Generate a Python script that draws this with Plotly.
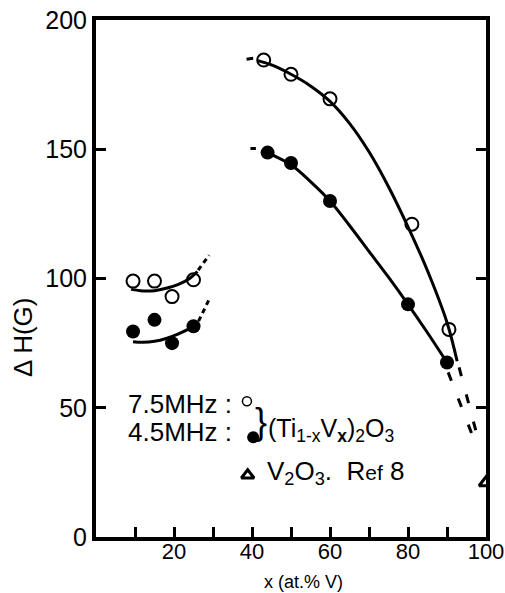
import plotly.graph_objects as go

# ---------------- data ----------------
# measured points, (Ti1-xVx)2O3
x_open_low = [9.5, 15, 19.5, 25]
y_open_low = [99, 99, 93, 99.5]
x_fill_low = [9.5, 15, 19.5, 25]
y_fill_low = [79.5, 84, 75, 81.5]
x_open_high = [43, 50, 60, 81, 90.5]
y_open_high = [184.5, 179, 169.5, 121, 80.3]
x_fill_high = [44, 50, 60, 80, 90]
y_fill_high = [148.7, 144.7, 130, 90, 67.5]
# V2O3, Ref 8
x_v2o3 = [100]
y_v2o3 = [21]

# drawn guide curves (solid)
cx_open_low = [9, 12, 15, 18, 21, 24, 26]
cy_open_low = [95.8, 95.2, 95.3, 96.2, 97.6, 100, 102.7]
cx_fill_low = [9.5, 12, 15, 18, 21, 24, 26]
cy_fill_low = [75.5, 75.3, 75.7, 76.8, 78.5, 80.6, 82.2]
cx_open_high = [41.5, 45, 50, 55, 60, 65, 70, 75, 80, 85, 90, 92.6]
cy_open_high = [184.3, 182.6, 179, 174.5, 168.5, 160, 149, 135.5, 120, 103, 83, 68]
cx_fill_high = [42.6, 45, 50, 55, 60, 65, 70, 75, 80, 85, 90]
cy_fill_high = [149.8, 148, 144, 137.5, 130, 120.5, 110.5, 100.5, 90, 79, 67.5]

# drawn guide curves (dashed extrapolations)
dx_open_low = [26.2, 29]
dy_open_low = [103.2, 109]
dx_fill_low = [26.3, 29.2]
dy_fill_low = [83.5, 92.5]
dx_open_high_a = [38.6, 40.3]
dy_open_high_a = [184.8, 185.2]
dx_fill_high_a = [39.6, 41.0]
dy_fill_high_a = [150.3, 150.3]
dx_open_high_b = [93.1, 97.7]
dy_open_high_b = [65.6, 39.4]
dx_fill_high_b = [90.3, 96.9]
dy_fill_high_b = [63.7, 37.8]

x_ticks = [20, 40, 60, 80, 100]
x_ticktext = ["20", "40", "60", "80", "100"]
x_minor_ticks = [10, 30, 50, 70, 90]
y_ticks = [0, 50, 100, 150, 200]
y_ticktext = ["0", "50", "100", "150", "200"]

FONT = "Liberation Sans, Arial, Helvetica, sans-serif"
BLACK = "#000000"

fig = go.Figure()

def line(xs, ys, dash="solid", width=3):
    fig.add_trace(go.Scatter(x=xs, y=ys, mode="lines", showlegend=False,
                             line=dict(color=BLACK, width=width, dash=dash,
                                       shape="spline", smoothing=1.0),
                             hoverinfo="skip"))

line(cx_open_low, cy_open_low)
line(cx_fill_low, cy_fill_low)
line(cx_open_high, cy_open_high)
line(cx_fill_high, cy_fill_high)
line(dx_open_low, dy_open_low, dash="5px,4px")
line(dx_fill_low, dy_fill_low, dash="5px,4px")
line(dx_open_high_a, dy_open_high_a, dash="solid")
line(dx_fill_high_a, dy_fill_high_a, dash="solid")
line(dx_open_high_b, dy_open_high_b, dash="9px,19px")
line(dx_fill_high_b, dy_fill_high_b, dash="9px,19px")

open_marker = dict(symbol="circle-open", size=13, color=BLACK, line=dict(width=2, color=BLACK))
fill_marker = dict(symbol="circle", size=14, color=BLACK)

fig.add_trace(go.Scatter(x=x_open_low + x_open_high, y=y_open_low + y_open_high,
                         mode="markers", marker=open_marker, showlegend=False))
fig.add_trace(go.Scatter(x=x_fill_low + x_fill_high, y=y_fill_low + y_fill_high,
                         mode="markers", marker=fill_marker, showlegend=False))
fig.add_trace(go.Scatter(x=x_v2o3, y=y_v2o3, mode="markers", cliponaxis=True,
                         marker=dict(symbol="triangle-up-open", size=12, color=BLACK,
                                     line=dict(width=3, color=BLACK)),
                         showlegend=False))

# in-plot key markers
fig.add_trace(go.Scatter(x=[38.7], y=[52.5], mode="markers", showlegend=False,
                         marker=dict(symbol="circle-open", size=9, color=BLACK,
                                     line=dict(width=1.5, color=BLACK))))
fig.add_trace(go.Scatter(x=[40.3], y=[38.6], mode="markers", showlegend=False,
                         marker=dict(symbol="circle", size=12, color=BLACK)))
fig.add_trace(go.Scatter(x=[38.9], y=[23.9], mode="markers", showlegend=False,
                         marker=dict(symbol="triangle-up-open", size=11, color=BLACK,
                                     line=dict(width=3, color=BLACK))))

ann = []
def text(x, y, s, size, xanchor="left", yanchor="middle", xref="x", yref="y", angle=0):
    ann.append(dict(x=x, y=y, xref=xref, yref=yref, text=s, showarrow=False,
                    xanchor=xanchor, yanchor=yanchor, textangle=angle,
                    font=dict(family=FONT, size=size, color=BLACK)))

text(7.6, 51.5, "7.5MHz :", 26)
text(7.6, 40.5, "4.5MHz :", 26)
text(42.4, 44.5, "}", 36, xanchor="center")
text(43.6, 41.5, "(Ti<sub>1-x</sub>V<sub><b>x</b></sub>)<sub>2</sub>O<sub>3</sub>", 25)
text(43.4, 25.0, "V<sub>2</sub>O<sub>3</sub>.&nbsp; R<span style='font-size:21px'>ef</span> 8", 26)
text(-0.187, 0.385, "Δ H(G)", 26, xanchor="center", xref="paper", yref="paper", angle=-90)
text(0.531, -0.088, "x (at.% V)", 18, xanchor="center", xref="paper", yref="paper")

fig.update_layout(
    width=505, height=593,
    margin=dict(l=96, r=19, t=20, b=56, autoexpand=False),
    paper_bgcolor="white", plot_bgcolor="white",
    annotations=ann,
    font=dict(family=FONT, color=BLACK),
    xaxis=dict(range=[0, 100], showgrid=False, zeroline=False, automargin=False,
               showline=True, linewidth=4, linecolor=BLACK, mirror=True,
               ticks="inside", ticklen=10, tickwidth=3, tickcolor=BLACK,
               tickvals=x_ticks, ticktext=x_ticktext,
               ticklabeloverflow="allow", ticklabelstandoff=-8,
               minor=dict(tickvals=x_minor_ticks, ticks="inside", ticklen=10,
                          tickwidth=3, tickcolor=BLACK, showgrid=False),
               tickfont=dict(family=FONT, size=22, color=BLACK)),
    yaxis=dict(range=[0, 200], showgrid=False, zeroline=False, automargin=False,
               showline=True, linewidth=4, linecolor=BLACK, mirror="ticks",
               ticks="inside", ticklen=10, tickwidth=3, tickcolor=BLACK,
               tickvals=y_ticks, ticktext=y_ticktext,
               tickfont=dict(family=FONT, size=25, color=BLACK)),
)

fig.write_html("out.html")
